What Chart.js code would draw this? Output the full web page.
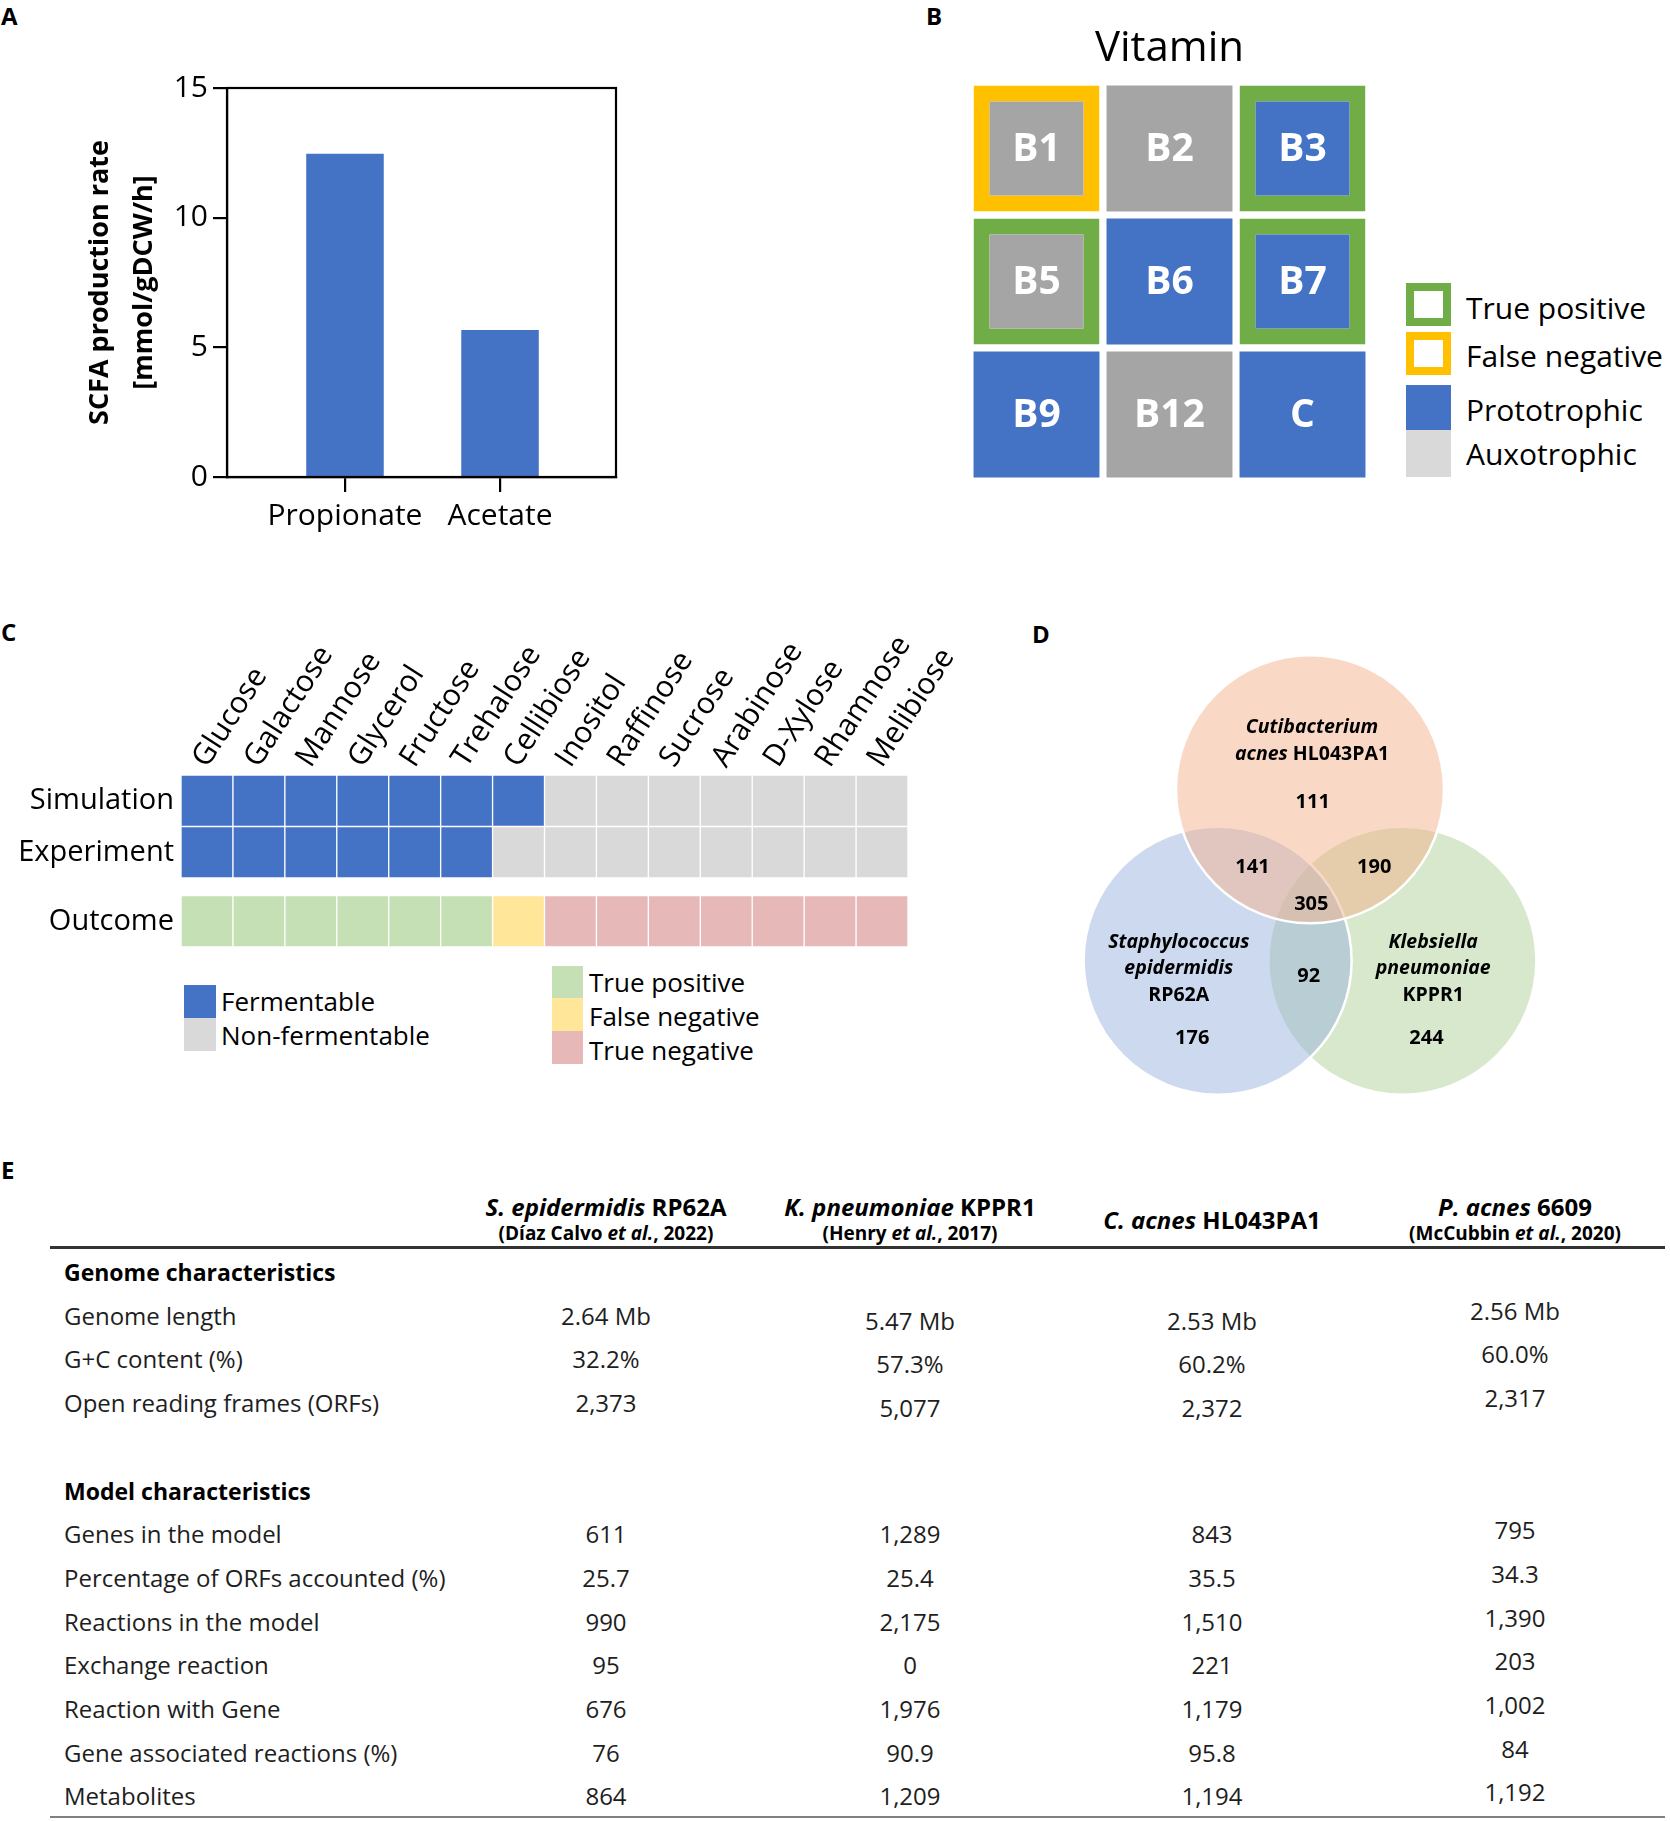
<!DOCTYPE html>
<html>
<head>
<meta charset="utf-8">
<title>SCFA, vitamins, carbon sources and model comparison</title>
<script src="https://cdn.jsdelivr.net/npm/chart.js@4.4.1/dist/chart.umd.min.js"></script>
<style>
  html, body { margin: 0; padding: 0; background: #fff; }
  body { width: 1670px; height: 1821px; position: relative; overflow: hidden;
         font-family: 'Open Sans', sans-serif; color: #000; }
  canvas { position: absolute; }
  .panel-label { position: absolute; font-weight: 700; font-size: 24px; line-height: 24px; }
  .swatch { position: absolute; box-sizing: border-box; }
  .legend-text { position: absolute; white-space: nowrap; line-height: 40px; }
  .row { position: absolute; left: 50px; width: 1615px; height: 44px; line-height: 44px; font-size: 24px; color: #1e1e1e; }
  .row .lab { position: absolute; left: 14px; white-space: nowrap; }
  .row .val { position: absolute; width: 300px; text-align: center; white-space: nowrap; }
  .row.section .lab { font-weight: 700; color: #000; font-size: 23px; }
  .head { position: absolute; width: 340px; text-align: center; white-space: nowrap; font-weight: 700; }
  .head .name { font-size: 24px; line-height: 30px; }
  .head .ref { font-size: 19px; line-height: 22px; }
  .rule { position: absolute; left: 50px; width: 1615px; }
</style>
</head>
<body>

<div class="panel-label" style="left:1px;top:4px">A</div>
<div class="panel-label" style="left:926px;top:4px">B</div>
<div class="panel-label" style="left:1px;top:620px">C</div>
<div class="panel-label" style="left:1032px;top:622px">D</div>
<div class="panel-label" style="left:1px;top:1158px">E</div>

<canvas id="chartA" width="600" height="520" style="left:60px;top:40px"></canvas>
<canvas id="chartB" width="399" height="471" style="left:970px;top:10px"></canvas>
<canvas id="chartC" width="965" height="314" style="left:10px;top:636px"></canvas>
<canvas id="chartD" width="482" height="462" style="left:1069px;top:642px"></canvas>

<div id="legendB"></div>
<div id="legendC"></div>
<div id="tableE"></div>

<script>
// Couleurs communes
const BLUE = '#4472c4';
const DARK_GREY = '#a5a5a5';
const LIGHT_GREY = '#d9d9d9';
const FRAME_GREEN = '#70ad47';
const FRAME_YELLOW = '#ffc000';

Chart.defaults.font.family = "'Open Sans', sans-serif";
Chart.defaults.color = '#000';
Chart.defaults.animation = false;
Chart.defaults.events = [];
Chart.defaults.plugins.legend.display = false;
Chart.defaults.plugins.tooltip.enabled = false;

// ---- A : SCFA production rate ----
const scfaLabels = ['Propionate', 'Acetate'];
const scfaRates = [12.46, 5.67];
const scfaTicks = [0, 5, 10, 15];

// ---- B : vitamins ----
const vitaminNames = [['B1', 'B2', 'B3'], ['B5', 'B6', 'B7'], ['B9', 'B12', 'C']];
const vitaminPrototrophic = [[0, 0, 1], [0, 1, 1], [1, 0, 1]];
const vitaminCheck = [['FN', '', 'TP'], ['TP', '', 'TP'], ['', '', '']];
const vitaminLegend = ['True positive', 'False negative', 'Prototrophic', 'Auxotrophic'];

// ---- C : carbon sources ----
const carbonSources = ['Glucose', 'Galactose', 'Mannose', 'Glycerol', 'Fructose', 'Trehalose', 'Cellibiose',
                       'Inositol', 'Raffinose', 'Sucrose', 'Arabinose', 'D-Xylose', 'Rhamnose', 'Melibiose'];
const simulationRow = [1, 1, 1, 1, 1, 1, 1, 0, 0, 0, 0, 0, 0, 0];
const experimentRow = [1, 1, 1, 1, 1, 1, 0, 0, 0, 0, 0, 0, 0, 0];
const outcomeRow = ['TP', 'TP', 'TP', 'TP', 'TP', 'TP', 'FN', 'TN', 'TN', 'TN', 'TN', 'TN', 'TN', 'TN'];
const outcomeColors = { TP: '#c5e0b4', FN: '#ffe699', TN: '#e6b9b8' };
const outcomeLegend = [['True positive', 'TP'], ['False negative', 'FN'], ['True negative', 'TN']];

// ---- D : Venn ----
const vennCounts = [111, 141, 190, 305, 92, 176, 244];
const vennCountPos = [[0.02, 0.75], [-0.43, 0.27], [0.48, 0.27], [0.01, -0.01], [-0.01, -0.55], [-0.88, -1.01], [0.87, -1.01]];

// ---- E : model comparison ----
const strainNames = ['S. epidermidis', 'K. pneumoniae', 'C. acnes', 'P. acnes'];
const strainCodes = ['RP62A', 'KPPR1', 'HL043PA1', '6609'];
const strainRefs = [['Díaz Calvo', '2022'], ['Henry', '2017'], null, ['McCubbin', '2020']];
const genomeRows = ['Genome length', 'G+C content (%)', 'Open reading frames (ORFs)'];
const modelRows = ['Genes in the model', 'Percentage of ORFs accounted (%)', 'Reactions in the model',
                   'Exchange reaction', 'Reaction with Gene', 'Gene associated reactions (%)', 'Metabolites'];
const sEpidermidisValues = ['2.64 Mb', '32.2%', '2,373', '611', '25.7', '990', '95', '676', '76', '864'];
const kPneumoniaeValues = ['5.47 Mb', '57.3%', '5,077', '1,289', '25.4', '2,175', '0', '1,976', '90.9', '1,209'];
const cAcnesValues = ['2.53 Mb', '60.2%', '2,372', '843', '35.5', '1,510', '221', '1,179', '95.8', '1,194'];
const pAcnesValues = ['2.56 Mb', '60.0%', '2,317', '795', '34.3', '1,390', '203', '1,002', '84', '1,192'];

// Cadre complet autour de la zone de tracé
const boxPlugin = {
    id: 'box',
    afterDraw(chart) {
        const { ctx, chartArea: a } = chart;
        ctx.save();
        ctx.strokeStyle = '#000';
        ctx.lineWidth = 2.2;
        ctx.strokeRect(a.left, a.top, a.right - a.left, a.bottom - a.top);
        ctx.restore();
    }
};

// Texte centré sur chaque barre
const cellTextPlugin = {
    id: 'cellText',
    afterDatasetsDraw(chart, args, opts) {
        if (!opts.texts) return;
        const ctx = chart.ctx;
        ctx.save();
        ctx.font = opts.font;
        ctx.fillStyle = opts.color;
        ctx.textAlign = 'center';
        ctx.textBaseline = 'middle';
        chart.data.datasets.forEach((ds, di) => {
            chart.getDatasetMeta(di).data.forEach((bar, i) => {
                ctx.fillText(opts.texts[di][i], bar.x, (bar.y + bar.base) / 2 + 1);
            });
        });
        ctx.restore();
    }
};

// A
new Chart(document.getElementById('chartA'), {
    type: 'bar',
    data: {
        datasets: [{
            data: scfaRates.map((v, i) => ({ x: i, y: v })),
            backgroundColor: BLUE,
            barPercentage: 0.5,
            categoryPercentage: 1
        }]
    },
    options: {
        responsive: false,
        layout: { padding: { top: 48, right: 44 } },
        scales: {
            x: {
                type: 'linear', min: -0.761, max: 1.748, offset: false,
                afterBuildTicks: s => { s.ticks = scfaLabels.map((_, i) => ({ value: i })); },
                ticks: { callback: v => scfaLabels[v], font: { size: 30 }, padding: 6, autoSkip: false, maxRotation: 0 },
                grid: { offset: false, drawOnChartArea: false, tickLength: 15, color: '#000', lineWidth: 2.2 },
                border: { color: '#000', width: 2.2 },
                afterFit: s => { s.height = 83; s.paddingLeft = 0; s.paddingRight = 0; }
            },
            y: {
                min: 0, max: 15,
                afterBuildTicks: s => { s.ticks = scfaTicks.map(v => ({ value: v })); },
                ticks: { font: { size: 30 }, padding: 5 },
                grid: { drawOnChartArea: false, tickLength: 14, color: '#000', lineWidth: 2.2 },
                border: { color: '#000', width: 2.2 },
                title: {
                    display: true,
                    text: ['SCFA production rate', '[mmol/gDCW/h]'],
                    font: { size: 27, weight: 'bold', lineHeight: 1.63 },
                    padding: { top: 18.6, bottom: 0 }
                },
                afterFit: s => { s.width = 167; s.paddingTop = 0; s.paddingBottom = 0; }
            }
        }
    },
    plugins: [boxPlugin]
});

// B
const CELL_GAP = 0.026;
new Chart(document.getElementById('chartB'), {
    type: 'bar',
    data: {
        labels: ['1', '2', '3'],
        datasets: vitaminNames.map((row, r) => ({
            data: row.map(() => [2 - r + CELL_GAP, 3 - r - CELL_GAP]),
            backgroundColor: vitaminPrototrophic[r].map(p => p ? BLUE : DARK_GREY),
            borderColor: vitaminCheck[r].map(c => c === 'TP' ? FRAME_GREEN : c === 'FN' ? FRAME_YELLOW : 'rgba(0,0,0,0)'),
            borderWidth: vitaminCheck[r].map(c => c ? 16 : 0),
            borderSkipped: false,
            grouped: false,
            barPercentage: 0.947,
            categoryPercentage: 1
        }))
    },
    options: {
        responsive: false,
        layout: { padding: 0 },
        scales: {
            x: { display: false, offset: true },
            y: { display: false, min: 0, max: 3 }
        },
        plugins: {
            title: {
                display: true, text: 'Vitamin', color: '#000',
                font: { size: 42, weight: 'normal', lineHeight: 1.2 },
                padding: { top: 13.8, bottom: 7.8 }
            },
            cellText: { texts: vitaminNames, font: "bold 39px 'Open Sans', sans-serif", color: '#fff' }
        }
    },
    plugins: [cellTextPlugin]
});

// C
const ROW_SPANS = { sim: [2.34, 3.34], exp: [1.34, 2.34], out: [0, 1] };
const rowCenters = [0.5, 1.84, 2.84];
const rowNames = ['Outcome', 'Experiment', 'Simulation'];
const cellStyle = { borderColor: '#fff', borderWidth: 1, borderSkipped: false, grouped: false, barPercentage: 1, categoryPercentage: 1 };
new Chart(document.getElementById('chartC'), {
    type: 'bar',
    data: {
        labels: carbonSources,
        datasets: [
            Object.assign({ data: simulationRow.map(() => ROW_SPANS.sim), backgroundColor: simulationRow.map(v => v ? BLUE : LIGHT_GREY) }, cellStyle),
            Object.assign({ data: experimentRow.map(() => ROW_SPANS.exp), backgroundColor: experimentRow.map(v => v ? BLUE : LIGHT_GREY) }, cellStyle),
            Object.assign({ data: outcomeRow.map(() => ROW_SPANS.out), backgroundColor: outcomeRow.map(o => outcomeColors[o]) }, cellStyle)
        ]
    },
    options: {
        responsive: false,
        layout: { padding: { right: 67, bottom: 3 } },
        scales: {
            x: {
                position: 'top', offset: true,
                grid: { display: false, drawTicks: false },
                border: { display: false },
                ticks: { font: { size: 30 }, minRotation: 57, maxRotation: 57, autoSkip: false, padding: 1, labelOffset: 23 },
                afterFit: s => { s.height = 139; s.paddingLeft = 0; s.paddingRight = 0; }
            },
            y: {
                min: 0, max: 3.34,
                afterBuildTicks: s => { s.ticks = rowCenters.map(v => ({ value: v })); },
                ticks: { callback: (v, i) => rowNames[i], font: { size: 29 }, padding: 7 },
                grid: { display: false, drawTicks: false },
                border: { display: false },
                afterFit: s => { s.width = 171; s.paddingTop = 0; s.paddingBottom = 0; }
            }
        }
    }
});

// D
const VENN_RADIUS = 134;
const vennColors = ['rgba(175,209,153,0.5)', 'rgba(155,179,223,0.5)', 'rgba(243,179,141,0.5)'];
const vennCenters = [{ x: 0.69, y: -0.43 }, { x: -0.69, y: -0.43 }, { x: 0, y: 0.85 }];
const vennNames = [
    { x: 0.015, y: 1.31, parts: [['Cutibacterium', 'italic']] },
    { x: 0.015, y: 1.11, parts: [['acnes ', 'italic'], ['HL043PA1', 'normal']] },
    { x: -0.98, y: -0.29, parts: [['Staphylococcus', 'italic']] },
    { x: -0.98, y: -0.49, parts: [['epidermidis', 'italic']] },
    { x: -0.98, y: -0.69, parts: [['RP62A', 'normal']] },
    { x: 0.92, y: -0.29, parts: [['Klebsiella', 'italic']] },
    { x: 0.92, y: -0.49, parts: [['pneumoniae', 'italic']] },
    { x: 0.92, y: -0.69, parts: [['KPPR1', 'normal']] }
];

const vennTextPlugin = {
    id: 'vennText',
    afterDatasetsDraw(chart) {
        const { ctx, scales: { x, y } } = chart;
        ctx.save();
        ctx.fillStyle = '#000';
        ctx.textBaseline = 'middle';
        ctx.textAlign = 'left';
        vennNames.forEach(lbl => {
            const fonts = lbl.parts.map(p => `${p[1]} bold 19.5px 'Open Sans', sans-serif`);
            let total = 0;
            const widths = lbl.parts.map((p, i) => { ctx.font = fonts[i]; const w = ctx.measureText(p[0]).width; total += w; return w; });
            let px = x.getPixelForValue(lbl.x) - total / 2;
            const py = y.getPixelForValue(lbl.y);
            lbl.parts.forEach((p, i) => { ctx.font = fonts[i]; ctx.fillText(p[0], px, py); px += widths[i]; });
        });
        ctx.font = "bold 20px 'Open Sans', sans-serif";
        ctx.textAlign = 'center';
        vennCounts.forEach((n, i) => {
            ctx.fillText(String(n), x.getPixelForValue(vennCountPos[i][0]), y.getPixelForValue(vennCountPos[i][1]));
        });
        ctx.restore();
    }
};

new Chart(document.getElementById('chartD'), {
    type: 'bubble',
    data: {
        datasets: [{
            data: vennCenters,
            backgroundColor: vennColors,
            borderColor: '#fff',
            borderWidth: 2.5,
            radius: VENN_RADIUS,
            clip: false
        }]
    },
    options: {
        responsive: false,
        layout: { padding: 0, autoPadding: false },
        scales: {
            x: { display: false, min: -1.8, max: 1.8 },
            y: { display: false, min: -1.5, max: 1.95 }
        }
    },
    plugins: [vennTextPlugin]
});

// Légendes HTML
function addSwatch(parent, left, top, w, h, fill, frame) {
    const d = document.createElement('div');
    d.className = 'swatch';
    d.style.cssText = `left:${left}px;top:${top}px;width:${w}px;height:${h}px;background:${fill};` +
        (frame ? `border:8px solid ${frame};` : '');
    parent.appendChild(d);
}
function addText(parent, left, centerY, text, size) {
    const t = document.createElement('div');
    t.className = 'legend-text';
    t.style.cssText = `left:${left}px;top:${centerY - 20}px;font-size:${size}px`;
    t.textContent = text;
    parent.appendChild(t);
}

const legB = document.getElementById('legendB');
const legBLayout = [[283, 43, 308], [332, 43, 356], [385, 45, 410], [430, 47, 454]];
const legBStyle = [['#fff', FRAME_GREEN], ['#fff', FRAME_YELLOW], [BLUE, null], [LIGHT_GREY, null]];
vitaminLegend.forEach((name, i) => {
    addSwatch(legB, 1406, legBLayout[i][0], 45, legBLayout[i][1], legBStyle[i][0], legBStyle[i][1]);
    addText(legB, 1466, legBLayout[i][2], name, 30);
});

const legC = document.getElementById('legendC');
addSwatch(legC, 184, 985, 32, 33, BLUE);
addSwatch(legC, 184, 1018, 32, 33, LIGHT_GREY);
addText(legC, 221, 1001, 'Fermentable', 26);
addText(legC, 221, 1035, 'Non-fermentable', 26);
const legCTop = [966, 998, 1031];
const legCText = [982, 1016, 1050];
outcomeLegend.forEach((o, i) => {
    addSwatch(legC, 552, legCTop[i], 31, 33, outcomeColors[o[1]]);
    addText(legC, 589, legCText[i], o[0], 26);
});

// E : tableau
const tableE = document.getElementById('tableE');
const colCenters = [606, 910, 1212, 1515];
const columns = [sEpidermidisValues, kPneumoniaeValues, cAcnesValues, pAcnesValues];

strainNames.forEach((name, i) => {
    const h = document.createElement('div');
    h.className = 'head';
    h.style.left = (colCenters[i] - 170) + 'px';
    const ref = strainRefs[i];
    if (ref) {
        h.style.top = '1192px';
        h.innerHTML = `<div class="name"><i>${name}</i> ${strainCodes[i]}</div>` +
            `<div class="ref">(${ref[0]} <i>et al.</i>, ${ref[1]})</div>`;
    } else {
        h.style.top = '1205px';
        h.innerHTML = `<div class="name"><i>${name}</i> ${strainCodes[i]}</div>`;
    }
    tableE.appendChild(h);
});

const topRule = document.createElement('div');
topRule.className = 'rule';
topRule.style.cssText = 'top:1246px;height:3px;background:#333';
tableE.appendChild(topRule);

const ROW_TOP = 1250, ROW_H = 43.7;
function addRow(k, label, section, valueIndex, shifts) {
    const r = document.createElement('div');
    r.className = 'row' + (section ? ' section' : '');
    r.style.top = (ROW_TOP + k * ROW_H) + 'px';
    r.innerHTML = `<span class="lab">${label}</span>`;
    if (valueIndex !== null) {
        columns.forEach((col, c) => {
            const v = document.createElement('span');
            v.className = 'val';
            v.style.left = (colCenters[c] - 50 - 150) + 'px';
            v.style.top = shifts[c] + 'px';
            v.textContent = col[valueIndex];
            r.appendChild(v);
        });
    }
    tableE.appendChild(r);
}
addRow(0, 'Genome characteristics', true, null);
genomeRows.forEach((lbl, i) => addRow(1 + i, lbl, false, i, [0, 5, 5, -5]));
addRow(5, 'Model characteristics', true, null);
modelRows.forEach((lbl, i) => addRow(6 + i, lbl, false, 3 + i, [0, 0, 0, -4]));

const bottomRule = document.createElement('div');
bottomRule.className = 'rule';
bottomRule.style.cssText = 'top:1816px;height:2px;background:#808080';
tableE.appendChild(bottomRule);
</script>
</body>
</html>
